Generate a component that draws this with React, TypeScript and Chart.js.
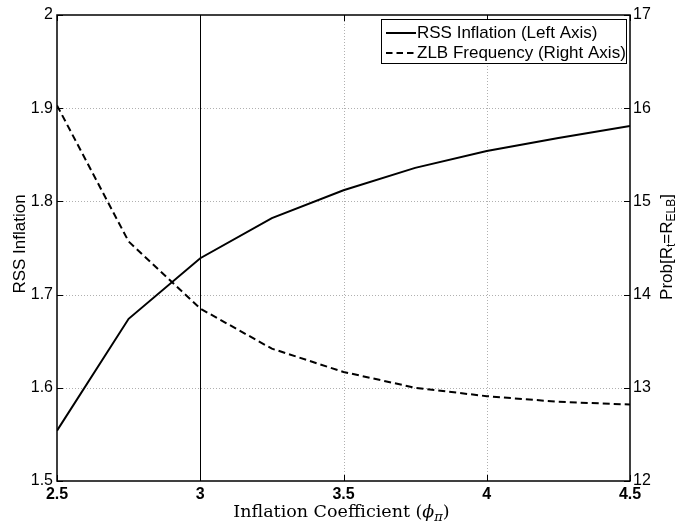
import React, { useEffect, useRef } from 'react';
import { Chart, registerables } from 'chart.js';
Chart.register(...registerables);

const phiValues = [2.5, 2.75, 3, 3.25, 3.5, 3.75, 4, 4.25, 4.5];
const rssInflation = [1.554, 1.674, 1.739, 1.782, 1.812, 1.836, 1.854, 1.868, 1.881];
const zlbFrequency = [16.03, 14.57, 13.85, 13.42, 13.17, 13.0, 12.91, 12.85, 12.82];
const xTicks = [2.5, 3, 3.5, 4, 4.5];
const leftTicks = [1.5, 1.6, 1.7, 1.8, 1.9, 2];
const rightTicks = [12, 13, 14, 15, 16, 17];
const markerX = 3;
const seriesNames = ['RSS Inflation (Left Axis)', 'ZLB Frequency (Right Axis)'];
const leftTitle = 'RSS Inflation';

type Part = { t: string; sub?: boolean; italic?: boolean };
const xTitleParts: Part[] = [
  { t: 'Inflation Coefficient (' },
  { t: 'ϕ', italic: true },
  { t: 'π', sub: true, italic: true },
  { t: ')' },
];
const rightTitleParts: Part[] = [
  { t: 'Prob[R' },
  { t: 't', sub: true },
  { t: '=R' },
  { t: 'ELB', sub: true },
  { t: ']' },
];

const SANS = '"Liberation Sans", Arial, sans-serif';
const SERIF = '"DejaVu Serif", "Liberation Serif", serif';

function drawRich(ctx: CanvasRenderingContext2D, parts: Part[], x: number, y: number, size: number, family: string) {
  const fontFor = (p: Part) => `${p.italic ? 'italic ' : ''}${p.sub ? Math.round(size * 0.72) : size}px ${family}`;
  let total = 0;
  for (const p of parts) {
    ctx.font = fontFor(p);
    total += ctx.measureText(p.t).width;
  }
  let cx = x - total / 2;
  ctx.textAlign = 'left';
  ctx.textBaseline = 'middle';
  for (const p of parts) {
    ctx.font = fontFor(p);
    ctx.fillText(p.t, cx, y + (p.sub ? size * 0.3 : 0));
    cx += ctx.measureText(p.t).width;
  }
}

const decorPlugin = {
  id: 'decor',
  beforeDatasetsDraw(chart: any) {
    const { ctx, chartArea: a, scales } = chart;
    const xs = scales.x, yl = scales.y;
    ctx.save();
    ctx.strokeStyle = '#b0b0b0';
    ctx.lineWidth = 1;
    ctx.setLineDash([1, 2]);
    for (const v of leftTicks.slice(1, -1)) {
      const py = Math.round(yl.getPixelForValue(v)) + 0.5;
      ctx.beginPath(); ctx.moveTo(a.left, py); ctx.lineTo(a.right, py); ctx.stroke();
    }
    for (const v of xTicks.slice(1, -1)) {
      const px = Math.round(xs.getPixelForValue(v)) + 0.5;
      ctx.beginPath(); ctx.moveTo(px, a.top); ctx.lineTo(px, a.bottom); ctx.stroke();
    }
    ctx.setLineDash([]);
    ctx.strokeStyle = '#000';
    const mx = Math.round(xs.getPixelForValue(markerX)) + 0.5;
    ctx.beginPath(); ctx.moveTo(mx, a.top); ctx.lineTo(mx, a.bottom); ctx.stroke();
    ctx.restore();
  },
  afterDraw(chart: any) {
    const { ctx, chartArea: a, scales } = chart;
    const xs = scales.x, yl = scales.y, yr = scales.y1;
    ctx.save();
    // box
    ctx.strokeStyle = '#000';
    ctx.lineWidth = 1.5;
    ctx.strokeRect(a.left, a.top, a.right - a.left, a.bottom - a.top);
    // inward ticks
    ctx.lineWidth = 1;
    const tl = 6;
    for (const v of xTicks) {
      const px = Math.round(xs.getPixelForValue(v)) + 0.5;
      ctx.beginPath(); ctx.moveTo(px, a.bottom); ctx.lineTo(px, a.bottom - tl); ctx.stroke();
      ctx.beginPath(); ctx.moveTo(px, a.top); ctx.lineTo(px, a.top + tl); ctx.stroke();
    }
    for (const v of leftTicks) {
      const py = Math.round(yl.getPixelForValue(v)) + 0.5;
      ctx.beginPath(); ctx.moveTo(a.left, py); ctx.lineTo(a.left + tl, py); ctx.stroke();
    }
    for (const v of rightTicks) {
      const py = Math.round(yr.getPixelForValue(v)) + 0.5;
      ctx.beginPath(); ctx.moveTo(a.right, py); ctx.lineTo(a.right - tl, py); ctx.stroke();
    }
    // legend
    const lx0 = 381, ly0 = 19, lx1 = 626, ly1 = 63;
    ctx.fillStyle = '#fff';
    ctx.fillRect(lx0, ly0, lx1 - lx0, ly1 - ly0);
    ctx.strokeStyle = '#000';
    ctx.lineWidth = 1;
    ctx.strokeRect(lx0 + 0.5, ly0 + 0.5, lx1 - lx0, ly1 - ly0);
    const rows = [33, 53];
    ctx.lineWidth = 2;
    ctx.font = `17px ${SANS}`;
    ctx.fillStyle = '#000';
    ctx.textAlign = 'left';
    ctx.textBaseline = 'middle';
    rows.forEach((ry, i) => {
      ctx.setLineDash(i === 1 ? [6.5, 4] : []);
      ctx.beginPath(); ctx.moveTo(386, ry); ctx.lineTo(416, ry); ctx.stroke();
      ctx.setLineDash([]);
      ctx.fillText(seriesNames[i], 417, ry + 0.5);
    });
    // titles
    ctx.fillStyle = '#000';
    drawRich(ctx, xTitleParts, 341.5, 512.5, 17.5, SERIF);
    ctx.save();
    ctx.translate(20, 244);
    ctx.rotate(-Math.PI / 2);
    ctx.font = `17px ${SANS}`;
    ctx.textAlign = 'center';
    ctx.textBaseline = 'middle';
    ctx.fillText(leftTitle, 0, 0);
    ctx.restore();
    ctx.save();
    ctx.translate(667, 247);
    ctx.rotate(-Math.PI / 2);
    drawRich(ctx, rightTitleParts, 0, 0, 17, SANS);
    ctx.restore();
    ctx.restore();
  },
};

export default function App() {
  const ref = useRef<HTMLCanvasElement>(null);
  useEffect(() => {
    if (!ref.current) return;
    const fmt = (v: any) => String(Number(Number(v).toFixed(2)));
    const chart = new Chart(ref.current, {
      type: 'line',
      data: {
        datasets: [
          {
            label: seriesNames[0],
            data: phiValues.map((x, i) => ({ x, y: rssInflation[i] })),
            borderColor: '#000',
            borderWidth: 2,
            pointRadius: 0,
            tension: 0,
            yAxisID: 'y',
          },
          {
            label: seriesNames[1],
            data: phiValues.map((x, i) => ({ x, y: zlbFrequency[i] })),
            borderColor: '#000',
            borderWidth: 2,
            borderDash: [7, 4],
            pointRadius: 0,
            tension: 0,
            yAxisID: 'y1',
          },
        ],
      },
      options: {
        animation: false,
        responsive: false,
        maintainAspectRatio: false,
        layout: { padding: { top: 15, left: 0, right: 0, bottom: 0 } },
        plugins: { legend: { display: false }, tooltip: { enabled: false } },
        scales: {
          x: {
            type: 'linear',
            min: 2.5,
            max: 4.5,
            grid: { display: false, drawTicks: false },
            border: { display: false },
            afterBuildTicks: (s: any) => { s.ticks = xTicks.map((v) => ({ value: v })); },
            afterFit: (s: any) => { s.height = 44; },
            ticks: {
              padding: 4,
              color: '#000',
              autoSkip: false,
              maxRotation: 0,
              font: { family: SANS, size: 16, weight: 'bold' },
              callback: fmt,
            },
          },
          y: {
            type: 'linear',
            position: 'left',
            min: 1.5,
            max: 2,
            grid: { display: false, drawTicks: false },
            border: { display: false },
            afterBuildTicks: (s: any) => { s.ticks = leftTicks.map((v) => ({ value: v })); },
            afterFit: (s: any) => { s.width = 57; },
            ticks: { padding: 4, color: '#000', font: { family: SANS, size: 16 }, callback: fmt },
          },
          y1: {
            type: 'linear',
            position: 'right',
            min: 12,
            max: 17,
            grid: { display: false, drawTicks: false },
            border: { display: false },
            afterBuildTicks: (s: any) => { s.ticks = rightTicks.map((v) => ({ value: v })); },
            afterFit: (s: any) => { s.width = 48; },
            ticks: { padding: 3, color: '#000', font: { family: SANS, size: 16 }, callback: fmt },
          },
        },
      },
      plugins: [decorPlugin],
    } as any);
    return () => chart.destroy();
  }, []);
  return (
    <div style={{ position: 'absolute', left: 0, top: 0, width: 678, height: 525, background: '#fff' }}>
      <canvas ref={ref} width={678} height={525} style={{ width: 678, height: 525, display: 'block' }} />
    </div>
  );
}
